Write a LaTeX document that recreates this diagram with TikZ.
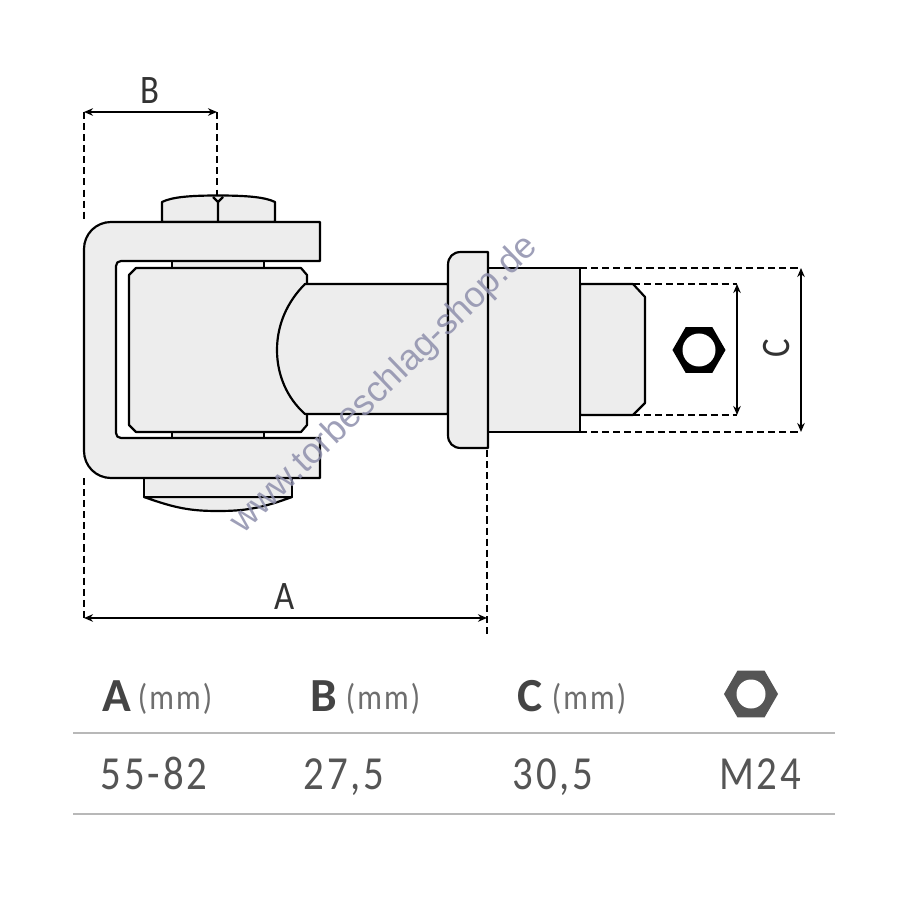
\documentclass[tikz,border=0pt]{standalone}
\usepackage{fontspec}
\setmainfont{Carlito}
\newfontfamily\wmfont{Liberation Sans}
\newfontfamily\dinfont[LetterSpace=6,FakeStretch=0.86]{Carlito}
\newfontfamily\headfont{Carlito}
\usetikzlibrary{arrows.meta,shapes.geometric}
\definecolor{partfill}{HTML}{EDEDED}
\definecolor{tabtext}{HTML}{555555}
\definecolor{tabrule}{HTML}{B8B8B8}
\definecolor{wmark}{HTML}{8E8FAC}
\tikzset{
  part/.style={draw=black,fill=partfill,line width=0.62pt,line join=round},
  dimline/.style={line width=0.42pt,{Stealth[length=0.9mm,width=0.75mm]}-{Stealth[length=0.9mm,width=0.75mm]}},
  guide/.style={line width=0.42pt,dash pattern=on 2pt off 1.15pt},
  dimtext/.style={text=black!80,font=\dinfont\fontsize{11.5}{12}\selectfont,inner sep=0pt},
  headtext/.style={text=tabtext!80!black,anchor=base,font=\headfont\bfseries\fontsize{13.5}{14}\selectfont,inner sep=0pt},
  unittext/.style={text=tabtext!85,anchor=base,font=\dinfont\fontsize{10.2}{12}\selectfont,inner sep=0pt},
  valtext/.style={text=tabtext,anchor=base,font=\dinfont\fontsize{13.5}{14}\selectfont,inner sep=0pt},
  rowrule/.style={draw=tabrule,line width=0.6pt},
  hexnut/.style={regular polygon,regular polygon sides=6,inner sep=0pt,draw=none},
  hexhole/.style={circle,fill=white,inner sep=0pt}
}
\begin{document}
\begin{tikzpicture}[x=0.01cm,y=-0.01cm]
  \useasboundingbox (0,0) rectangle (900,900);
  \fill[white] (0,0) rectangle (900,900);
  % nut on top and head below
  \draw[part] (162,222) -- (162,202) .. controls (172,197) and (190,195.5) .. (218,195.5) .. controls (246,195.5) and (265,197) .. (275,202) -- (275,222) -- cycle;
  \draw[part,fill=none] (218,222) -- (218,202) -- (213,197);
  \draw[part,fill=none] (218,202) -- (223,197);
  \draw[part] (144,497) .. controls (175,508) and (190,511) .. (218,511) .. controls (246,511) and (262,508) .. (292,497) -- cycle;
  \draw[part] (144,478) rectangle (292,497);
  % spacers
  \draw[part] (172,261) rectangle (264,268);
  \draw[part] (172,432) rectangle (264,438);
  % clip
  \draw[part] (320,222) -- (111,222) .. controls (96,222) and (84,234) .. (84,249) -- (84,451) .. controls (84,466) and (96,478) .. (111,478)
    -- (320,478) -- (320,438) -- (121,438) .. controls (118,438) and (116,436) .. (116,433) -- (116,266) .. controls (116,263) and (118,261) .. (121,261) -- (320,261) -- cycle;
  % block and pin
  \draw[part] (136,268) -- (301,268) -- (307,275) -- (307,425) -- (301,432) -- (136,432) -- (129,425) -- (129,275) -- cycle;
  \draw[part] (448,284) -- (305,284) .. controls (287,302) and (277,325) .. (277,350) .. controls (277,375) and (287,398) .. (305,414) -- (448,414) -- cycle;
  % threaded end
  \draw[part] (580,284) -- (633,284) -- (645,297) -- (645,403) -- (633,415) -- (580,415) -- cycle;
  \draw[part] (488,268) rectangle (580,432);
  \draw[part] (488,252) -- (461,252) .. controls (453,252) and (448,257) .. (448,265) -- (448,435) .. controls (448,443) and (453,448) .. (461,448) -- (488,448) -- cycle;
  % dimensions
  \coordinate (a1) at (84,618);
  \coordinate (a2) at (487,618);
  \coordinate (b1) at (84,112);
  \coordinate (b2) at (217,112);
  \coordinate (c1) at (801,268);
  \coordinate (c2) at (801,432);
  \coordinate (d1) at (737,284);
  \coordinate (d2) at (737,415);
  \coordinate (ga) at (487,450);
  \coordinate (gae) at (487,634);
  \coordinate (gb) at (217,196);
  \coordinate (gl1) at (84,222);
  \coordinate (gl2) at (84,478);
  \coordinate (gt1) at (580,268);
  \coordinate (gt2) at (580,432);
  \coordinate (gt3) at (633,284);
  \coordinate (gt4) at (633,415);
  \draw[guide] (b1) -- (gl1);
  \draw[guide] (gl2) -- (a1);
  \draw[guide] (b2) -- (gb);
  \draw[guide] (ga) -- (gae);
  \draw[guide] (gt1) -- (c1);
  \draw[guide] (gt2) -- (c2);
  \draw[guide] (gt3) -- (d1);
  \draw[guide] (gt4) -- (d2);
  \draw[dimline] (a1) -- (a2);
  \draw[dimline] (b1) -- (b2);
  \draw[dimline] (c1) -- (c2);
  \draw[dimline] (d1) -- (d2);
  \node[dimtext,anchor=base] (la) at (285,609) {A};
  \node[dimtext,anchor=base] (lb) at (150,103) {B};
  \node[dimtext,rotate=90] (lc) at (777,348) {C};
  \node[hexnut,fill=black,minimum size=0.53cm] (hexa) at (699,350) {};
  \node[hexhole,minimum size=0.33cm] (holea) at (hexa) {};
  % table
  \coordinate (r1a) at (73,733);
  \coordinate (r1b) at (835,733);
  \coordinate (r2a) at (73,814);
  \coordinate (r2b) at (835,814);
  \draw[rowrule] (r1a) -- (r1b);
  \draw[rowrule] (r2a) -- (r2b);
  \node[headtext] (ha) at (117,711) {A};
  \node[unittext] (ua) at (175,709) {(mm)};
  \node[headtext] (hb) at (324,711) {B};
  \node[unittext] (ub) at (383,709) {(mm)};
  \node[headtext] (hc) at (530,711) {C};
  \node[unittext] (uc) at (589,709) {(mm)};
  \node[hexnut,fill=tabtext,minimum size=0.54cm] (hexb) at (751,694) {};
  \node[hexhole,minimum size=0.29cm] (holeb) at (hexb) {};
  \node[valtext] (va) at (154,789) {55-82};
  \node[valtext] (vb) at (344,789) {27,5};
  \node[valtext] (vc) at (553,789) {30,5};
  \node[valtext] (vd) at (760,789) {M24};
  % watermark
  \node[text=wmark,opacity=0.85,rotate=44,inner sep=0pt,font=\wmfont\fontsize{10.2}{12}\selectfont] (wm) at (385,385) {www.torbeschlag-shop.de};
\end{tikzpicture}
\end{document}
